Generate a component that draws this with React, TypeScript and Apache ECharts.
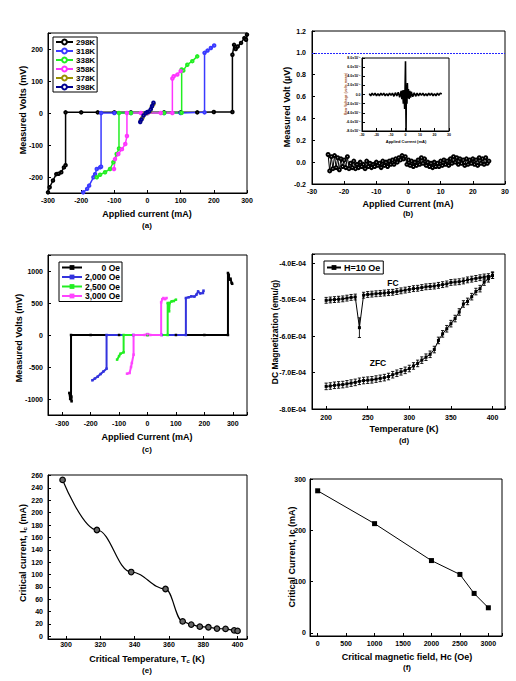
import React, { useEffect, useRef } from 'react';
import * as echarts from 'echarts';

const FONT = "'Liberation Sans', Arial, sans-serif";

// ---------- (a) I-V curves at several temperatures ----------
const aNames = ['298K', '318K', '338K', '358K', '378K', '398K'];
const aColors = ['#000000', '#3a3aff', '#22ee22', '#ff33ff', '#9a9000', '#000090'];
const a298: number[][] = [[-300, -248], [-295, -232], [-285, -211], [-275, -191], [-268, -190], [-260, -185], [-252, -170], [-247, -163], [-247, 2], [-200, 2], [-150, 2], [-100, 2], [-50, 2], [0, 2], [50, 2], [100, 2], [150, 2], [200, 3], [256, 3], [256, 182], [261, 213], [266, 200], [272, 208], [282, 219], [292, 234], [297, 229], [300, 245]];
const a318: number[][] = [[-194, -248], [-182, -237], [-176, -227], [-163, -201], [-158, -191], [-153, -175], [-143, -170], [-140, -168], [-140, 0], [-100, 0], [-50, 0], [0, 0], [50, 0], [100, 0], [172, 2], [172, 188], [181, 195], [191, 203], [201, 211]];
const a338: number[][] = [[-153, -201], [-143, -193], [-128, -185], [-113, -175], [-103, -154], [-93, -128], [-86, -111], [-86, 0], [-50, 0], [0, 0], [50, 0], [103, 1], [103, 136], [108, 133], [120, 151], [135, 162], [150, 177]];
const a358: number[][] = [[-101, -175], [-98, -144], [-88, -128], [-77, -113], [-67, -97], [-62, -72], [-62, 0], [-20, 0], [0, 0], [40, 0], [75, 0], [75, 108], [79, 115], [90, 120], [100, 131]];
const a378: number[][] = [[-20, -22], [-15, -15], [-8, -3], [0, 2], [8, 6], [13, 20], [18, 28]];
const a398: number[][] = [[-22, -28], [-18, -20], [-12, -8], [-5, 0], [0, 3], [5, 5], [10, 12], [14, 22], [18, 32]];
const aSeries = [a298, a318, a338, a358, a378, a398];

// ---------- (b) low-current measurement ----------
const bNoise: number[][] = [
  [-25, 0.07], [-24.5, -0.08], [-24, 0.05], [-23.5, -0.06], [-23, 0.06], [-22.5, -0.05], [-22, 0.04], [-21.5, -0.07], [-21, 0.03], [-20.5, -0.04],
  [-20, 0.02], [-19.5, -0.05], [-19, 0.05], [-18.5, -0.06], [-18, -0.01], [-17.5, -0.05], [-17, 0.01], [-16.5, -0.06], [-16, -0.02], [-15.5, -0.05],
  [-15, 0.0], [-14.5, -0.04], [-14, -0.02], [-13.5, -0.06], [-13, 0.01], [-12.5, -0.04], [-12, -0.01], [-11.5, -0.05], [-11, -0.02], [-10.5, -0.04],
  [-10, 0.0], [-9.5, -0.03], [-9, -0.01], [-8.5, -0.05], [-8, 0.01], [-7.5, -0.03], [-7, 0.0], [-6.5, -0.04], [-6, 0.01], [-5.5, -0.02],
  [-5, 0.02], [-4.5, -0.02], [-4, 0.03], [-3.5, 0.0], [-3, 0.04], [-2.5, 0.02], [-2, 0.06], [-1.5, 0.03], [-1, 0.05], [-0.5, -0.02],
  [0, 0.02], [0.5, -0.03], [1, 0.01], [1.5, -0.04], [2, 0.0], [2.5, -0.03], [3, 0.02], [3.5, -0.02], [4, 0.04], [4.5, -0.01],
  [5, 0.03], [5.5, -0.03], [6, 0.0], [6.5, -0.04], [7, -0.01], [7.5, -0.05], [8, 0.0], [8.5, -0.04], [9, -0.01], [9.5, -0.04],
  [10, 0.01], [10.5, -0.03], [11, 0.02], [11.5, -0.02], [12, 0.01], [12.5, -0.03], [13, 0.03], [13.5, -0.01], [14, 0.05], [14.5, 0.0],
  [15, 0.04], [15.5, -0.02], [16, 0.03], [16.5, -0.01], [17, 0.02], [17.5, -0.03], [18, 0.03], [18.5, -0.02], [19, 0.02], [19.5, -0.01],
  [20, 0.03], [20.5, -0.02], [21, 0.02], [21.5, -0.03], [22, 0.04], [22.5, -0.01], [23, 0.03], [23.5, -0.02], [24, 0.04], [24.5, -0.01], [25, 0.01],
];
const bThreshold = 1.0;
// inset (values in units of 1e-7)
const bInset: number[][] = [
  [-25, 0.2], [-24, -0.3], [-23, 0.3], [-22, -0.2], [-21, 0.3], [-20, -0.3], [-19, 0.2], [-18, -0.3], [-17, 0.3], [-16, -0.2],
  [-15, 0.3], [-14, -0.3], [-13, 0.2], [-12, -0.3], [-11, 0.3], [-10, -0.2], [-9, 0.3], [-8, -0.4], [-7, 0.4], [-6, -0.3],
  [-5, 0.5], [-4, -0.6], [-3, 0.8], [-2.5, -1.0], [-2, 0.9], [-1.5, -2.0], [-1, 1.0], [-0.6, -3.2], [-0.3, 1.5], [0, 7.3],
  [0.2, -1.0], [0.4, -8.0], [0.6, 2.0], [1, -2.0], [1.3, 2.5], [1.6, -0.8], [2, 1.2], [2.5, -1.0], [3, 0.8], [3.5, -0.7],
  [4, 0.6], [5, -0.5], [6, 0.4], [7, -0.4], [8, 0.3], [9, -0.3], [10, 0.3], [11, -0.2], [12, 0.3], [13, -0.3],
  [14, 0.2], [15, -0.3], [16, 0.3], [17, -0.2], [18, 0.3], [19, -0.3], [20, 0.2], [21, -0.3], [22, 0.3], [23, -0.2], [24, 0.3], [25, 0.1],
];

// ---------- (c) I-V curves under field ----------
const cNames = ['0 Oe', '2,000 Oe', '2,500 Oe', '3,000 Oe'];
const cColors = ['#000000', '#3333dd', '#22ee22', '#ff44ff'];
const c0: number[][] = [[-272, -1000], [-275, -905], [-268, -960], [-267, -1036], [-269, -990], [-269, 0], [-200, 0], [-100, 0], [0, 0], [100, 0], [200, 0], [283, 0], [283, 969], [286, 940], [288, 865], [292, 880], [296, 813], [298, 800]];
const c2000: number[][] = [[-194, -708], [-185, -680], [-175, -650], [-165, -610], [-155, -570], [-144, -526], [-144, 0], [-50, 0], [50, 0], [135, 0], [135, 578], [145, 590], [154, 604], [165, 600], [172, 630], [178, 682], [185, 650], [195, 656], [197, 693]];
const c2500: number[][] = [[-107, -385], [-100, -330], [-95, -292], [-84, -271], [-84, 0], [0, 0], [71, 0], [71, 500], [74, 400], [76, 370], [78, 500], [85, 526], [92, 530], [100, 552]];
const c3000: number[][] = [[-72, -604], [-63, -594], [-58, -500], [-55, -437], [-49, -307], [-49, 0], [-10, 0], [0, 15], [10, 0], [48, 0], [48, 510], [52, 560], [56, 578], [62, 560], [67, 578]];
const cSeries = [c0, c2000, c2500, c3000];

// ---------- (d) DC magnetization (values in units of 1e-4 emu/g) ----------
const dTemps = [200, 205, 210, 215, 220, 225, 230, 235, 240, 245, 250, 255, 260, 265, 270, 275, 280, 285, 290, 295, 300, 305, 310, 315, 320, 325, 330, 335, 340, 345, 350, 355, 360, 365, 370, 375, 380, 385, 390, 395, 400];
const dFC = [-5.02, -5.01, -5.0, -4.99, -4.98, -4.96, -4.94, -4.93, -5.77, -4.88, -4.86, -4.85, -4.84, -4.83, -4.82, -4.81, -4.8, -4.78, -4.76, -4.74, -4.72, -4.7, -4.69, -4.67, -4.65, -4.64, -4.63, -4.61, -4.59, -4.57, -4.53, -4.52, -4.51, -4.49, -4.46, -4.44, -4.42, -4.4, -4.38, -4.37, -4.34];
const dFCErr = [0.08, 0.08, 0.08, 0.08, 0.08, 0.08, 0.08, 0.08, 0.27, 0.08, 0.08, 0.08, 0.08, 0.08, 0.08, 0.08, 0.08, 0.08, 0.08, 0.08, 0.08, 0.08, 0.08, 0.08, 0.08, 0.08, 0.08, 0.08, 0.08, 0.08, 0.08, 0.08, 0.08, 0.08, 0.08, 0.08, 0.08, 0.08, 0.08, 0.08, 0.08];
const dZFC = [-7.38, -7.37, -7.35, -7.34, -7.33, -7.31, -7.29, -7.27, -7.24, -7.22, -7.21, -7.2, -7.18, -7.16, -7.14, -7.11, -7.06, -7.02, -6.98, -6.94, -6.89, -6.82, -6.75, -6.66, -6.58, -6.5, -6.37, -6.12, -5.94, -5.8, -5.66, -5.52, -5.34, -5.12, -5.05, -4.92, -4.78, -4.7, -4.52, -4.43, -4.33];
const dZFCErr = [0.09, 0.09, 0.09, 0.09, 0.09, 0.09, 0.09, 0.09, 0.09, 0.09, 0.09, 0.09, 0.09, 0.09, 0.09, 0.09, 0.09, 0.09, 0.09, 0.09, 0.09, 0.09, 0.09, 0.09, 0.09, 0.09, 0.09, 0.09, 0.09, 0.09, 0.09, 0.09, 0.09, 0.09, 0.09, 0.09, 0.09, 0.09, 0.09, 0.09, 0.09];
const dUnit = 1e-4;

// ---------- (e) critical current vs temperature ----------
const eTemps = [298, 318, 338, 358, 368, 373, 378, 383, 388, 393, 398, 400];
const eIc = [253, 172, 104, 76.5, 24, 19, 15.6, 14.6, 12.4, 11.9, 9.7, 8.6];

// ---------- (f) critical current vs field ----------
const fField = [0, 1000, 2000, 2500, 2750, 3000];
const fIc = [277, 213, 141, 114, 77, 49];

const isMult = (v: number, step: number) => {
  const k = v / step;
  return Math.abs(k - Math.round(k)) < 1e-6;
};

function vAxis(gi: number, min: number, max: number, step: number, fmt: (v: number) => string, margin: number, size = 7) {
  return {
    type: 'value', gridIndex: gi, min, max, minInterval: step, maxInterval: step,
    splitLine: { show: false },
    axisLine: { show: true, onZero: false, lineStyle: { color: '#000', width: 1 } },
    axisTick: { show: true, inside: true, length: 3, lineStyle: { color: '#000', width: 1 } },
    axisLabel: {
      fontSize: size, fontWeight: 'bold', fontFamily: FONT, color: '#000', margin,
      formatter: (v: number) => (isMult(v, step) ? fmt(v) : ''),
    },
  };
}

const txt = (text: string, x: number, y: number, size = 9, rot = 0, extra: any = {}) => ({
  type: 'text', x, y, rotation: rot, z: 100,
  style: {
    text, fontSize: size, fontWeight: 'bold', fontFamily: FONT, fill: extra.fill || '#000',
    align: 'center', verticalAlign: 'middle', rich: extra.rich,
  },
});

const subRich = {
  s: { fontSize: 6, fontWeight: 'bold', fontFamily: FONT, verticalAlign: 'bottom', padding: [4, 0, 0, 0] },
};

function errorSeries(axis: number, vals: number[], errs: number[]) {
  return {
    type: 'custom', xAxisIndex: axis, yAxisIndex: axis, silent: true, z: 3,
    data: dTemps.map((t, i) => [t, (vals[i] - errs[i]) * dUnit, (vals[i] + errs[i]) * dUnit]),
    encode: { x: 0, y: [1, 2] },
    renderItem: (params: any, api: any) => {
      const x = api.value(0);
      const p1 = api.coord([x, api.value(1)]);
      const p2 = api.coord([x, api.value(2)]);
      const w = 1.6;
      const st = { stroke: '#000', lineWidth: 0.9 };
      return {
        type: 'group',
        children: [
          { type: 'line', shape: { x1: p1[0], y1: p1[1], x2: p2[0], y2: p2[1] }, style: st },
          { type: 'line', shape: { x1: p1[0] - w, y1: p1[1], x2: p1[0] + w, y2: p1[1] }, style: st },
          { type: 'line', shape: { x1: p2[0] - w, y1: p2[1], x2: p2[0] + w, y2: p2[1] }, style: st },
        ],
      };
    },
  };
}

export default function App() {
  const ref = useRef<HTMLDivElement>(null);
  useEffect(() => {
    document.body.style.margin = '0';
    const chart = echarts.init(ref.current!, null, { renderer: 'svg' });
    const gridStyle = { show: true, borderColor: '#000', borderWidth: 1, backgroundColor: 'transparent' };
    const grids = [
      { left: 48, top: 33, width: 199, height: 160, ...gridStyle },
      { left: 312, top: 31, width: 193, height: 153, ...gridStyle },
      { left: 362, top: 58, width: 87, height: 73, ...gridStyle, backgroundColor: '#fff' },
      { left: 48, top: 255, width: 199, height: 160, ...gridStyle },
      { left: 312, top: 254, width: 193, height: 155, ...gridStyle },
      { left: 48, top: 475, width: 199, height: 164, ...gridStyle },
      { left: 310, top: 479, width: 192, height: 157, ...gridStyle },
    ];
    const xAxes = [
      vAxis(0, -300, 300, 100, (v) => String(v), 4),
      vAxis(1, -30, 30, 10, (v) => String(v), 4),
      vAxis(2, -30, 30, 10, (v) => String(v), 1.5, 3.5),
      vAxis(3, -350, 350, 100, (v) => String(v), 5),
      vAxis(4, 183, 415, 50, (v) => String(v), 5),
      vAxis(5, 289.5, 405.5, 20, (v) => String(v), 2),
      vAxis(6, -135, 3240, 500, (v) => String(v), 4),
    ];
    const yAxes = [
      vAxis(0, -250, 250, 100, (v) => String(v), 5),
      vAxis(1, -0.2, 1.2, 0.2, (v) => v.toFixed(1), 6),
      vAxis(2, -8, 8, 2, (v) => (Math.abs(v) < 1e-9 ? '0.0' : v.toFixed(1) + 'x10⁻⁷'), 1.5, 3.5),
      vAxis(3, -1250, 1250, 500, (v) => String(v), 5),
      vAxis(4, -8e-4, -3.75e-4, 1e-4, (v) => (v / dUnit).toFixed(1) + 'E-04', 6),
      vAxis(5, -4.4, 261, 20, (v) => String(Math.round(v)), 5),
      vAxis(6, -6, 300, 100, (v) => String(v), 4),
    ];

    const series: any[] = [];
    aSeries.forEach((d, i) => {
      series.push({
        name: aNames[i], type: 'line', xAxisIndex: 0, yAxisIndex: 0, data: d,
        symbol: 'emptyCircle', symbolSize: 2.5, showSymbol: true,
        lineStyle: { color: aColors[i], width: 1.5 }, itemStyle: { color: aColors[i], borderWidth: 1 },
      });
    });
    series.push({
      name: 'bNoise', type: 'line', xAxisIndex: 1, yAxisIndex: 1, data: bNoise,
      symbol: 'emptyCircle', symbolSize: 3, lineStyle: { color: '#000', width: 1 }, itemStyle: { color: '#000', borderWidth: 1 },
      markLine: {
        silent: true, symbol: 'none', label: { show: false },
        lineStyle: { color: '#2626ff', type: [2, 1], width: 1 },
        data: [{ yAxis: bThreshold }],
      },
    });
    series.push({
      name: 'bInset', type: 'line', xAxisIndex: 2, yAxisIndex: 2, data: bInset,
      symbol: 'none', lineStyle: { color: '#000', width: 1.6 },
    });
    cSeries.forEach((d, i) => {
      series.push({
        name: cNames[i], type: 'line', xAxisIndex: 3, yAxisIndex: 3, data: d,
        symbol: 'rect', symbolSize: 2.5,
        lineStyle: { color: cColors[i], width: 2 }, itemStyle: { color: cColors[i] },
      });
    });
    series.push(errorSeries(4, dZFC, dZFCErr));
    series.push(errorSeries(4, dFC, dFCErr));
    series.push({
      name: 'H=10 Oe', type: 'line', xAxisIndex: 4, yAxisIndex: 4,
      data: dTemps.map((t, i) => [t, dZFC[i] * dUnit]),
      symbol: 'rect', symbolSize: 3, lineStyle: { color: '#000', width: 1 }, itemStyle: { color: '#000' },
    });
    series.push({
      name: 'H=10 Oe', type: 'line', xAxisIndex: 4, yAxisIndex: 4,
      data: dTemps.map((t, i) => [t, dFC[i] * dUnit]),
      symbol: 'rect', symbolSize: 3, lineStyle: { color: '#000', width: 1 }, itemStyle: { color: '#000' },
    });
    series.push({
      name: 'eIc', type: 'line', xAxisIndex: 5, yAxisIndex: 5,
      data: eTemps.map((t, i) => [t, eIc[i]]),
      smooth: 0.4, smoothMonotone: 'x',
      symbol: 'circle', symbolSize: 5.5,
      lineStyle: { color: '#000', width: 1.2 },
      itemStyle: { color: '#666', borderColor: '#000', borderWidth: 1.2 },
    });
    series.push({
      name: 'fIc', type: 'line', xAxisIndex: 6, yAxisIndex: 6,
      data: fField.map((h, i) => [h, fIc[i]]),
      symbol: 'rect', symbolSize: 5,
      lineStyle: { color: '#000', width: 1 }, itemStyle: { color: '#000' },
    });

    const legendText = { fontSize: 8, fontWeight: 'bold', fontFamily: FONT, color: '#000' };
    const legends = [
      {
        data: aNames, left: 53, top: 37, orient: 'vertical', itemGap: 1, itemWidth: 17, itemHeight: 6,
        borderColor: '#000', borderWidth: 1, padding: [1, 2, 1, 2], selectedMode: false,
        textStyle: { ...legendText, padding: [0, 0, 0, -2] },
      },
      {
        data: cNames, left: 59, top: 262, orient: 'vertical', itemGap: 0.5, itemWidth: 20, itemHeight: 6,
        borderColor: '#000', borderWidth: 1, padding: [1, 2, 1, 2], selectedMode: false,
        formatter: (n: string) => `{r|${n}}`,
        textStyle: {
          ...legendText,
          rich: { r: { width: 33, align: 'right', fontSize: 8.5, fontWeight: 'bold', fontFamily: FONT, color: '#000' } },
        },
      },
      {
        data: ['H=10 Oe'], left: 324, top: 261, orient: 'vertical', itemWidth: 14, itemHeight: 6,
        borderColor: '#000', borderWidth: 1, padding: [2, 3, 2, 2], selectedMode: false,
        textStyle: { ...legendText, fontSize: 9, padding: [0, 0, 0, -2] },
      },
    ];

    const graphics = [
      txt('Measured Volts (mV)', 23, 110, 9, Math.PI / 2),
      txt('Applied current (mA)', 147, 214),
      txt('(a)', 147, 225, 8),
      txt('Measured Volt (µV)', 287, 107, 9, Math.PI / 2),
      txt('Applied Current (mA)', 408, 204),
      txt('(b)', 408, 213, 8),
      txt('Raw Voltage (volts mean)', 346, 94, 3.5, Math.PI / 2, { fill: '#a0522d' }),
      txt('Applied Current (mA)', 406, 141, 4),
      txt('Measured Volts (mV)', 19, 338, 9, Math.PI / 2),
      txt('Applied Current (mA)', 147, 437),
      txt('(c)', 147, 449, 8),
      txt('DC Magnetization (emu/g)', 275, 332, 8.5, Math.PI / 2),
      txt('Temperature (K)', 404, 429),
      txt('(d)', 404, 440, 8),
      txt('FC', 393, 283, 8.5),
      txt('ZFC', 378, 363, 8.5),
      txt('Critical current, I{s|c} (mA)', 23, 553, 9, Math.PI / 2, { rich: subRich }),
      txt('Critical Temperature, T{s|c} (K)', 147, 659, 9, 0, { rich: subRich }),
      txt('(e)', 147, 670, 8),
      txt('Critical Current, Ic (mA)', 292, 557, 9, Math.PI / 2),
      txt('Critical magnetic field, Hc (Oe)', 407, 657),
      txt('(f)', 407, 667, 8),
    ];

    chart.setOption({
      animation: false,
      backgroundColor: '#fff',
      textStyle: { fontFamily: FONT },
      grid: grids,
      xAxis: xAxes,
      yAxis: yAxes,
      legend: legends,
      series,
      graphic: graphics,
    });
    return () => chart.dispose();
  }, []);
  return <div ref={ref} style={{ position: 'absolute', left: 0, top: 0, width: 516, height: 681, background: '#fff' }} />;
}
